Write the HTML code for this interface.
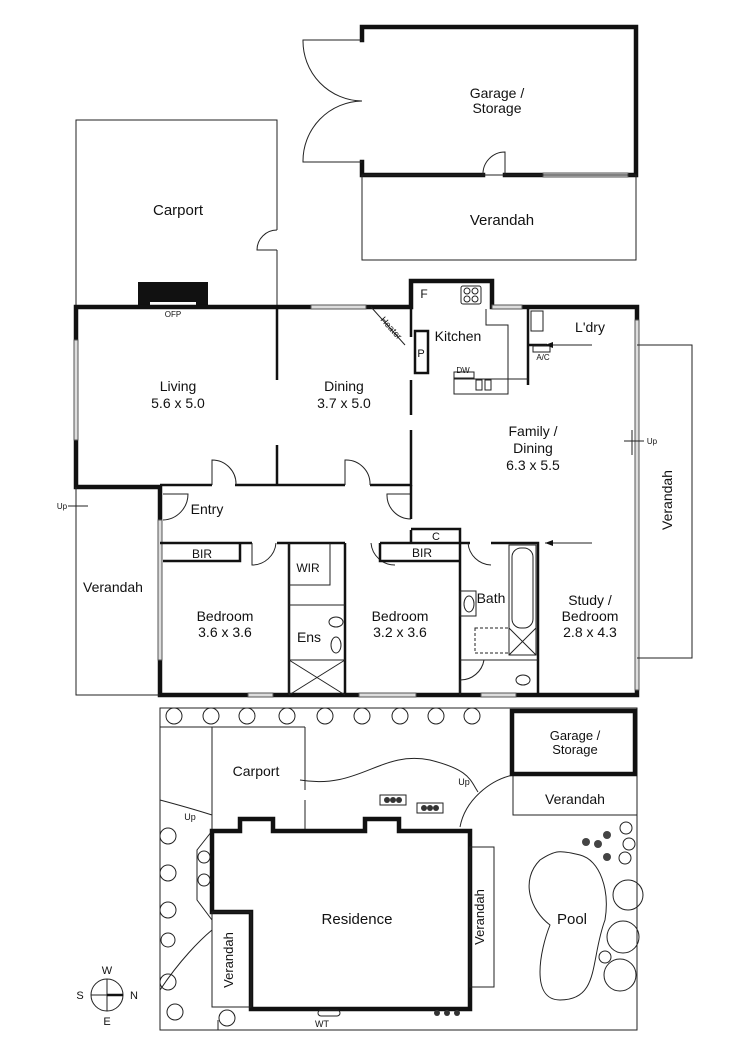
<!DOCTYPE html>
<html><head><meta charset="utf-8"><style>
html,body{margin:0;padding:0;background:#fff}
svg{display:block}
text{font-family:"Liberation Sans",Arial,sans-serif;fill:#111;text-anchor:middle}
.t{stroke:#111;stroke-width:4.5;fill:none;stroke-linecap:square}
.m{stroke:#111;stroke-width:2.5;fill:none}
.n{stroke:#222;stroke-width:1;fill:none}
.w{stroke:#555;stroke-width:1;fill:#ddd}
</style></head><body>
<svg width="750" height="1060" viewBox="0 0 750 1060" xmlns="http://www.w3.org/2000/svg">
<!-- Garage -->
<path class="t" d="M362,40 V27 H636 V175 H505 M483,175 H362 V162"/>
<path class="n" d="M362,40 H303 A60,60 0 0 0 362,101 A60,60 0 0 0 303,162 H362"/>
<path class="n" d="M483,175 A22,22 0 0 1 505,152 V175"/>
<rect class="w" x="543" y="173" width="85" height="4"/>
<rect class="n" x="362" y="175" width="274" height="85"/>
<text x="497" y="98" font-size="14">Garage /</text><text x="497" y="113" font-size="14">Storage</text>
<text x="502" y="225" font-size="15">Verandah</text>
<!-- Carport -->
<path class="n" d="M76,307 V120 H277 V230 M277,250 V307"/>
<path class="n" d="M277,230 A20,20 0 0 0 257,250 H277"/>
<text x="178" y="215" font-size="15">Carport</text>
<!-- OFP -->
<rect x="138" y="282" width="70" height="25" fill="#111"/>
<rect x="150" y="302" width="46" height="5" fill="#fff"/>
<text x="173" y="317" font-size="8">OFP</text>
<!-- main walls -->
<path class="t" d="M411,307 V281 H492 V307 H637 V695 H160 V487 H76 V307 Z"/>
<rect class="w" x="311" y="305" width="55" height="4"/>
<rect class="w" x="492" y="305" width="30" height="4"/>
<rect class="w" x="74" y="340" width="4" height="100"/>
<rect class="w" x="158" y="520" width="4" height="140"/>
<rect class="w" x="635" y="320" width="4" height="370"/>
<rect class="w" x="248" y="693" width="25" height="4"/><rect class="w" x="359" y="693" width="57" height="4"/><rect class="w" x="481" y="693" width="35" height="4"/>
<!-- interior -->
<path class="m" d="M277,307 V380 M277,445 V485 M160,485 H212 M235,485 H345 M370,485 H411 V430 M411,415 V380 M411,337 V307"/>
<path class="n" d="M212,485 V460 A24,24 0 0 1 236,485 M345,485 V460 A24,24 0 0 1 370,485"/>
<path class="n" d="M163,520 A26,26 0 0 0 188,494 H163"/>
<path class="n" d="M411,519 A24,24 0 0 1 387,494 H411"/>
<path class="m" d="M411,485 V519 M411,530 V543 H460 V529 H411 M160,543 H252 M277,543 H345 M380,543 H411 M460,543 H470 M491,543 H538 V695 M345,543 V695 M289,543 V695 M460,543 V695"/>
<path class="n" d="M252,543 V565 A24,24 0 0 0 276,543 M371,543 A24,24 0 0 0 395,565 M468,543 A24,24 0 0 0 491,565 M460,695 V680 A24,24 0 0 0 484,660"/>
<path class="m" d="M163,561 H240 V543 M380,543 V561 H460"/>
<path class="n" d="M289,543 V605 H345 M289,585 H330 V543 M289,605 V695 M289,660 H345"/>
<path class="n" d="M289,660 L345,695 M345,660 L289,695"/>
<ellipse class="n" cx="336" cy="622" rx="7" ry="5"/><ellipse class="n" cx="336" cy="645" rx="5" ry="8"/>
<text x="202" y="558" font-size="12">BIR</text><text x="422" y="557" font-size="12">BIR</text>
<text x="308" y="572" font-size="12">WIR</text><text x="309" y="642" font-size="14">Ens</text>
<text x="436" y="540" font-size="11">C</text>
<!-- bath -->
<rect class="n" x="509" y="545" width="27" height="110"/>
<rect class="n" x="512" y="548" width="21" height="80" rx="9"/>
<path class="n" d="M509,628 L536,655 M536,628 L509,655"/>
<rect class="n" x="475" y="628" width="34" height="25" stroke-dasharray="3,2"/>
<ellipse class="n" cx="469" cy="604" rx="5" ry="8"/><rect class="n" x="460" y="591" width="16" height="25"/>
<ellipse class="n" cx="523" cy="680" rx="7" ry="5"/>
<path class="n" d="M460,660 H538"/>
<text x="491" y="603" font-size="14">Bath</text>
<!-- kitchen -->
<path class="m" d="M528,307 V385 M528,345 H547"/>
<rect class="m" x="415" y="331" width="13" height="42"/>
<text x="421" y="357" font-size="11">P</text>
<text x="424" y="298" font-size="12">F</text>
<rect class="n" x="461" y="286" width="20" height="18" rx="2"/>
<circle class="n" cx="467" cy="291" r="3"/><circle class="n" cx="475" cy="291" r="3"/><circle class="n" cx="467" cy="299" r="3"/><circle class="n" cx="475" cy="299" r="3"/>
<path class="n" d="M486,309 V325 H508 V394 H454 V379 H528"/>
<rect class="n" x="454" y="372" width="20" height="6"/>
<rect class="n" x="476" y="380" width="6" height="10"/><rect class="n" x="485" y="380" width="6" height="10"/>
<rect class="n" x="531" y="311" width="12" height="20"/>
<rect class="n" x="533" y="346" width="17" height="6"/>
<path class="n" d="M371,307 L405,345"/>
<text x="389" y="330" font-size="9" transform="rotate(48 389 330)">Heater</text>
<text x="458" y="341" font-size="14">Kitchen</text>
<text x="463" y="373" font-size="8">DW</text>
<text x="543" y="360" font-size="8">A/C</text>
<text x="590" y="332" font-size="14">L'dry</text>
<!-- verandah right -->
<path class="n" d="M637,345 H692 V658 H637"/>
<path class="n" d="M545,345 H592 M545,543 H592"/>
<path d="M545,345 l8,-3 v6 z M545,543 l8,-3 v6 z" fill="#111"/>
<path class="n" d="M624,441 H644 M632,430 V455"/>
<text x="652" y="444" font-size="8">Up</text>
<text x="672" y="500" font-size="14" transform="rotate(-90 672 500)">Verandah</text>
<!-- verandah left -->
<path class="n" d="M76,487 V695 H160"/>
<path class="n" d="M68,506 H88"/><text x="62" y="509" font-size="8">Up</text>
<text x="113" y="592" font-size="14">Verandah</text>
<!-- labels -->
<text x="178" y="391" font-size="14">Living</text><text x="178" y="408" font-size="14">5.6 x 5.0</text>
<text x="344" y="391" font-size="14">Dining</text><text x="344" y="408" font-size="14">3.7 x 5.0</text>
<text x="533" y="436" font-size="14">Family /</text><text x="533" y="453" font-size="14">Dining</text><text x="533" y="470" font-size="14">6.3 x 5.5</text>
<text x="207" y="514" font-size="14">Entry</text>
<text x="225" y="621" font-size="14">Bedroom</text><text x="225" y="637" font-size="14">3.6 x 3.6</text>
<text x="400" y="621" font-size="14">Bedroom</text><text x="400" y="637" font-size="14">3.2 x 3.6</text>
<text x="590" y="605" font-size="14">Study /</text><text x="590" y="621" font-size="14">Bedroom</text><text x="590" y="637" font-size="14">2.8 x 4.3</text>
<!-- SITE PLAN -->
<rect class="n" x="160" y="708" width="477" height="322" stroke-width="1.5"/>
<path class="n" d="M160,727 H305 M212,727 V831 M305,727 V790 M305,800 V831 M513,775 H637 M513,775 V815 H637 M160,800 Q190,808 212,815 M300,780 C360,790 380,750 430,760 C470,770 470,780 478,792 M460,827 C465,800 490,780 513,775 M212,831 L197,850 V900 L212,920 M160,990 C180,960 200,940 212,930 M218,1030 V1020"/>
<rect class="t" x="512" y="711" width="123" height="63" stroke-width="3.5"/>
<text x="575" y="740" font-size="13">Garage /</text><text x="575" y="754" font-size="13">Storage</text>
<text x="575" y="804" font-size="14">Verandah</text>
<text x="256" y="776" font-size="14">Carport</text>
<path class="t" d="M212,831 H240 V819 H273 V831 H365 V819 H399 V831 H470 V1009 H251 V912 H212 Z" stroke-width="3.5"/>
<rect class="n" x="470" y="847" width="24" height="140"/>
<text x="484" y="917" font-size="13" transform="rotate(-90 484 917)">Verandah</text>
<rect class="n" x="212" y="912" width="39" height="95"/>
<text x="233" y="960" font-size="13" transform="rotate(-90 233 960)">Verandah</text>
<text x="357" y="924" font-size="15">Residence</text>
<path class="n" d="M540,860 C520,880 530,910 550,925 C540,950 530,1000 560,1000 C600,1000 590,960 605,920 C610,890 600,860 580,855 C560,850 555,850 540,860 Z"/>
<text x="572" y="924" font-size="15">Pool</text>
<text x="464" y="785" font-size="9">Up</text><text x="190" y="820" font-size="9">Up</text>
<rect class="n" x="318" y="1010" width="22" height="6" rx="3"/><text x="322" y="1027" font-size="9">WT</text>
<rect class="n" x="380" y="795" width="26" height="10"/><rect class="n" x="417" y="803" width="26" height="10"/>
<g fill="#333"><circle cx="387" cy="800" r="3"/><circle cx="393" cy="800" r="3"/><circle cx="399" cy="800" r="3"/><circle cx="424" cy="808" r="3"/><circle cx="430" cy="808" r="3"/><circle cx="436" cy="808" r="3"/><circle cx="437" cy="1013" r="3"/><circle cx="447" cy="1013" r="3"/><circle cx="457" cy="1013" r="3"/></g>
<g class="n" fill="#fff" stroke="#222">
<circle cx="174" cy="716" r="8"/><circle cx="211" cy="716" r="8"/><circle cx="247" cy="716" r="8"/><circle cx="287" cy="716" r="8"/><circle cx="325" cy="716" r="8"/><circle cx="362" cy="716" r="8"/><circle cx="400" cy="716" r="8"/><circle cx="436" cy="716" r="8"/><circle cx="472" cy="716" r="8"/>
<circle cx="168" cy="836" r="8"/><circle cx="168" cy="873" r="8"/><circle cx="168" cy="910" r="8"/><circle cx="168" cy="940" r="7"/><circle cx="168" cy="982" r="8"/><circle cx="175" cy="1012" r="8"/><circle cx="227" cy="1018" r="8"/><circle cx="204" cy="857" r="6"/><circle cx="204" cy="880" r="6"/>
<circle cx="626" cy="828" r="6"/><circle cx="629" cy="844" r="6"/><circle cx="625" cy="858" r="6"/>
<circle cx="628" cy="895" r="15"/><circle cx="623" cy="937" r="16"/><circle cx="620" cy="975" r="16"/>
<circle cx="605" cy="957" r="6"/>
</g>
<g fill="#444"><circle cx="586" cy="842" r="4"/><circle cx="598" cy="844" r="4"/><circle cx="607" cy="835" r="4"/><circle cx="607" cy="857" r="4"/></g>
<!-- compass -->
<circle class="n" cx="107" cy="995" r="16" stroke-width="1.5"/>
<path class="n" d="M91,995 H123 M107,979 V1011"/><path d="M107,995 H123" stroke="#111" stroke-width="2.5"/>
<text x="107" y="974" font-size="11">W</text><text x="107" y="1025" font-size="11">E</text>
<text x="80" y="999" font-size="11">S</text><text x="134" y="999" font-size="11">N</text>
</svg>
</body></html>
